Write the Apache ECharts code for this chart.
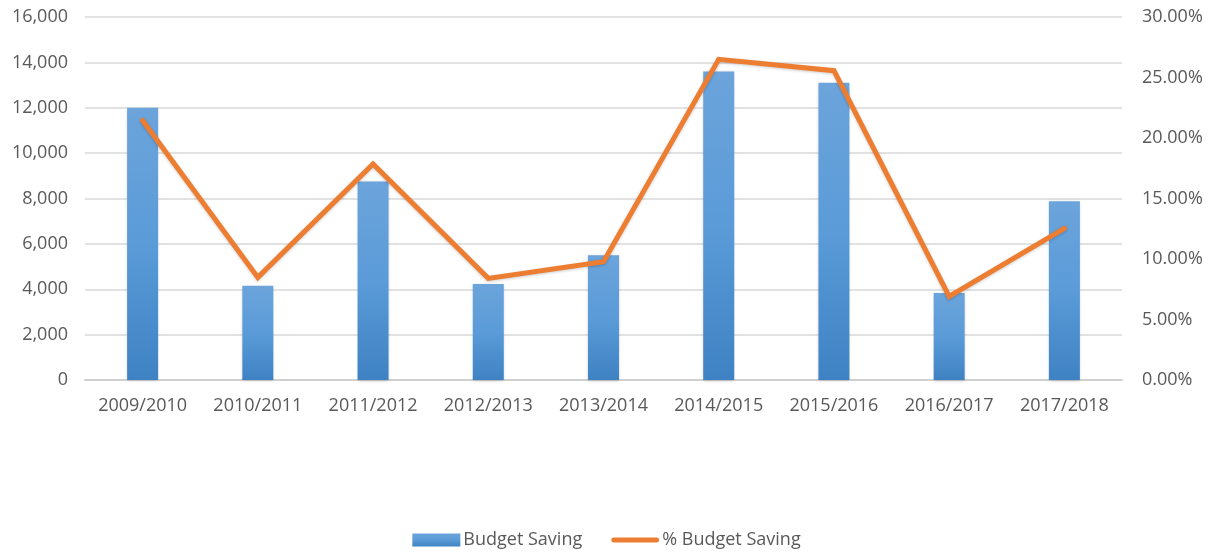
<!DOCTYPE html>
<html>
<head>
<meta charset="utf-8">
<script src="https://cdn.jsdelivr.net/npm/echarts@6/dist/echarts.min.js"></script>
<style>
  html, body { margin: 0; padding: 0; background: #fff; }
  #chart { width: 1213px; height: 559px; }
</style>
</head>
<body>
<div id="chart"></div>
<script>
var years = ['2009/2010', '2010/2011', '2011/2012', '2012/2013', '2013/2014',
  '2014/2015', '2015/2016', '2016/2017', '2017/2018'];
var budgetSaving = [12000, 4150, 8750, 4230, 5500, 13600, 13100, 3830, 7880];
var pctBudgetSaving = [21.45, 8.48, 17.85, 8.4, 9.78, 26.5, 25.56, 6.9, 12.53];

var textColor = '#595959';
var font = 'Open Sans';

var chart = echarts.init(document.getElementById('chart'));
chart.setOption({
  backgroundColor: '#fff',
  animation: false,
  textStyle: { fontFamily: font, color: textColor },
  grid: { left: 85, right: 91, top: 17, bottom: 179 },
  legend: {
    bottom: 5,
    left: 'center',
    itemGap: 29,
    itemWidth: 48,
    itemHeight: 13,
    textStyle: { fontSize: 18, color: textColor, fontFamily: font, padding: [0, 0, 0, -2] },
    data: [
      { name: 'Budget Saving', icon: 'rect' },
      {
        name: '% Budget Saving',
        icon: 'path://M2.5,0 L47.5,0 A2.5,2.5 0 0 1 47.5,5 L2.5,5 A2.5,2.5 0 0 1 2.5,0 Z',
        itemStyle: { color: '#ed7d31' }
      }
    ]
  },
  xAxis: {
    type: 'category',
    data: years,
    axisTick: { show: false },
    axisLine: { lineStyle: { color: '#d0d0d0', width: 2 } },
    axisLabel: { fontSize: 18, color: textColor, margin: 17, interval: 0 }
  },
  yAxis: [
    {
      type: 'value',
      min: 0,
      max: 16000,
      interval: 2000,
      axisLine: { show: false },
      axisTick: { show: false },
      splitLine: { lineStyle: { color: '#d9d9d9', width: 1.5 } },
      axisLabel: {
        fontSize: 18,
        color: textColor,
        margin: 17,
        formatter: function (v) { return v.toLocaleString('en-US'); }
      }
    },
    {
      type: 'value',
      min: 0,
      max: 30,
      interval: 5,
      axisLine: { show: false },
      axisTick: { show: false },
      splitLine: { show: false },
      axisLabel: {
        fontSize: 18,
        color: textColor,
        margin: 20,
        formatter: function (v) { return v.toFixed(2) + '%'; }
      }
    }
  ],
  series: [
    {
      name: 'Budget Saving',
      type: 'bar',
      data: budgetSaving,
      barWidth: 31,
      itemStyle: {
        color: new echarts.graphic.LinearGradient(0, 0, 0, 1, [
          { offset: 0, color: '#6ca4db' },
          { offset: 0.5, color: '#5a9bd8' },
          { offset: 1, color: '#3f82c3' }
        ]),
        shadowColor: 'rgba(0,0,0,0.18)',
        shadowBlur: 3,
        shadowOffsetY: 1
      }
    },
    {
      name: '% Budget Saving',
      type: 'line',
      yAxisIndex: 1,
      data: pctBudgetSaving,
      showSymbol: false,
      symbol: 'none',
      lineStyle: {
        color: '#ed7d31',
        width: 5,
        cap: 'round',
        join: 'miter',
        shadowColor: 'rgba(0,0,0,0.2)',
        shadowBlur: 3,
        shadowOffsetY: 1
      },
      itemStyle: { color: '#ed7d31' }
    }
  ]
});
</script>
</body>
</html>
